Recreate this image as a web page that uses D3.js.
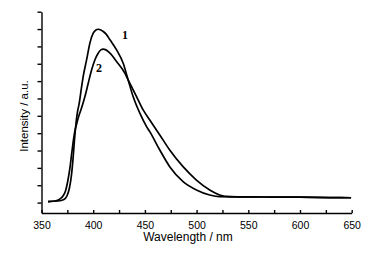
<!DOCTYPE html>
<html>
<head>
<meta charset="utf-8">
<script src="https://cdn.jsdelivr.net/npm/d3@7"></script>
<style>
html,body{margin:0;padding:0;background:#fff;}
svg{display:block;}
</style>
</head>
<body>
<svg id="chart" width="371" height="258"></svg>
<script>
// Wavelength (nm) samples and intensities (a.u.)
const wavelength1 = [356.3,365.9,371.7,374.6,377.0,379.0,380.4,381.9,383.3,384.8,386.5,388.8,390.3,393.6,396.8,400.0,402.6,404.8,407.4,409.7,412.3,416.2,422.6,429.0,433.8,438.6,445.1,451.6,454.7,464.4,474.0,486.9,499.8,512.7,522.3,541.6,570.6,599.5,628.5,649.4];
const intensity1  = [0.06,0.09,0.18,0.38,0.84,1.59,2.46,3.61,4.53,5.22,5.73,6.68,7.26,8.22,9.19,9.76,9.95,9.99,9.95,9.86,9.72,9.38,8.80,8.03,7.07,6.11,5.15,4.38,4.09,3.03,2.07,1.21,0.73,0.44,0.34,0.33,0.32,0.31,0.29,0.28];

const wavelength2 = [356.3,363.0,367.9,370.8,373.2,375.6,377.5,379.4,380.9,382.3,383.8,385.5,388.8,392.0,395.2,398.5,401.6,404.8,407.4,409.7,412.3,416.2,422.6,430.6,433.8,441.9,448.3,454.7,464.4,474.0,486.9,499.8,512.7,522.3,531.9,541.6,570.6,599.5,628.5,649.4];
const intensity2  = [0.06,0.09,0.21,0.38,0.67,1.30,2.00,2.92,3.61,4.13,4.48,4.88,5.46,6.11,6.88,7.65,8.22,8.61,8.80,8.84,8.80,8.61,8.13,7.46,7.07,6.11,5.34,4.76,3.90,3.03,2.07,1.30,0.73,0.44,0.34,0.33,0.32,0.31,0.29,0.28];

const xTicks = [350,375,400,425,450,475,500,525,550,575,600,625,650];
const xTickLabels = ["350","","400","","450","","500","","550","","600","","650"];
const yTicks = [0,1,2,3,4,5,6,7,8,9,10,11];
const seriesLabels = ["1","2"];
const labelPositions = [[430.7,9.45],[405.6,7.55]]; // data coords of curve labels
const xTitle = "Wavelength / nm";
const yTitle = "Intensity / a.u.";

const svg = d3.select("#chart");
const x = d3.scaleLinear().domain([350,650]).range([41.5,351.7]);
const y = d3.scaleLinear().domain([-0.6,11]).range([213,11.7]);

// Left axis: outward ticks, no labels
const yAxis = d3.axisLeft(y).tickValues(yTicks).tickSizeInner(4).tickSizeOuter(0).tickFormat("");
const gy = svg.append("g").attr("transform","translate(41.5,0)").call(yAxis);
gy.selectAll("path,line").attr("stroke","#000").attr("stroke-width",1.4);

// Bottom axis: inward ticks, labels every 50
const xAxis = d3.axisBottom(x).tickValues(xTicks).tickSizeInner(-3).tickSizeOuter(0)
  .tickFormat((d,i)=>xTickLabels[i]);
const gx = svg.append("g").attr("transform","translate(0,213)").call(xAxis);
gx.selectAll("path,line").attr("stroke","#000").attr("stroke-width",1.4);
gx.selectAll("text").attr("y",15.5).attr("dy",null)
  .attr("font-family","'Liberation Sans', Arial, sans-serif").attr("font-size","10.5px").attr("fill","#000");

// Lines
const line = d3.line().x(d=>x(d[0])).y(d=>y(d[1])).curve(d3.curveMonotoneX);
const s1 = wavelength1.map((w,i)=>[w,intensity1[i]]);
const s2 = wavelength2.map((w,i)=>[w,intensity2[i]]);
[s1,s2].forEach(s=>{
  svg.append("path").datum(s).attr("d",line)
    .attr("fill","none").attr("stroke","#000").attr("stroke-width",1.7).attr("stroke-linejoin","round");
});

// Curve labels
seriesLabels.forEach((t,i)=>{
  svg.append("text").attr("x",x(labelPositions[i][0])).attr("y",y(labelPositions[i][1]))
    .attr("text-anchor","middle").attr("font-family","'Liberation Serif', 'Times New Roman', serif")
    .attr("font-weight","bold").attr("font-size","12px").attr("fill","#000").text(t);
});

// Axis titles
svg.append("text").attr("x",188).attr("y",241).attr("text-anchor","middle")
  .attr("font-family","'Liberation Sans', Arial, sans-serif").attr("font-size","12px").attr("fill","#000").text(xTitle);
svg.append("text").attr("transform","translate(28,116) rotate(-90)").attr("text-anchor","middle")
  .attr("font-family","'Liberation Sans', Arial, sans-serif").attr("font-size","11.5px").attr("fill","#000").text(yTitle);
</script>
</body>
</html>
